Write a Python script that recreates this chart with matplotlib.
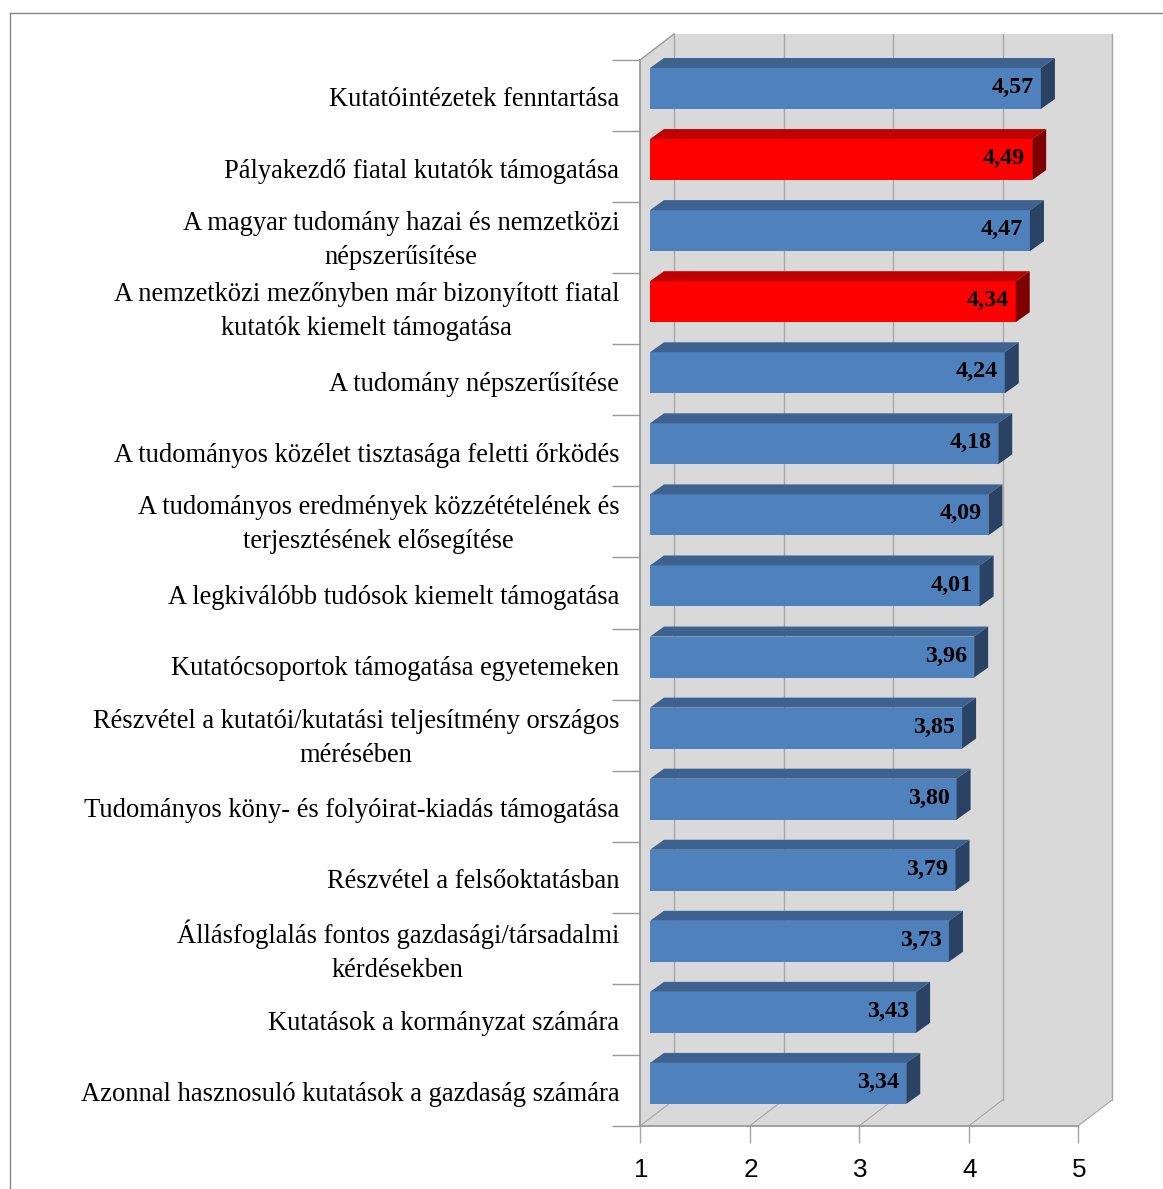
import matplotlib.pyplot as plt
from matplotlib.lines import Line2D
from matplotlib.patches import Polygon
from matplotlib.transforms import Affine2D

plt.rcParams['font.family'] = ['Liberation Serif', 'DejaVu Serif']

labels = ['Kutatóintézetek fenntartása',
          'Pályakezdő fiatal kutatók támogatása',
          'A magyar tudomány hazai és nemzetközi\nnépszerűsítése',
          'A nemzetközi mezőnyben már bizonyított fiatal\nkutatók kiemelt támogatása',
          'A tudomány népszerűsítése',
          'A tudományos közélet tisztasága feletti őrködés',
          'A tudományos eredmények közzétételének és\nterjesztésének elősegítése',
          'A legkiválóbb tudósok kiemelt támogatása',
          'Kutatócsoportok támogatása egyetemeken',
          'Részvétel a kutatói/kutatási teljesítmény országos\nmérésében',
          'Tudományos köny- és folyóirat-kiadás támogatása',
          'Részvétel a felsőoktatásban',
          'Állásfoglalás fontos gazdasági/társadalmi\nkérdésekben',
          'Kutatások a kormányzat számára',
          'Azonnal hasznosuló kutatások a gazdaság számára']
values = [4.57, 4.49, 4.47, 4.34, 4.24, 4.18, 4.09, 4.01, 3.96, 3.85, 3.80, 3.79, 3.73, 3.43, 3.34]
highlight = [1, 3]

W, H = 1163, 1189
fig = plt.figure(figsize=(W / 100, H / 100), dpi=100, facecolor='white')
ax = fig.add_axes([640 / W, (H - 1126) / H, 438 / W, 1066 / H])
ax.set_facecolor('none')
n = len(values)
ax.set_xlim(1, 5)
ax.set_ylim(n, 0)

# pixels -> data units
px = 4 / 438
py = n / 1066
wall_dx, wall_dy = 34 * px, 26 * py
bar_dx, bar_dy = 14 * px, 10 * py
grid_c = '#a6a6a6'

# walls
ax.add_patch(Polygon([(1 + wall_dx, -wall_dy), (5 + wall_dx, -wall_dy), (5 + wall_dx, n - wall_dy),
                      (5, n), (1, n), (1, 0)],
                     fc='#d9d9d9', ec='none', clip_on=False, zorder=0))

# gridlines on back wall and floor
for v in range(1, 6):
    ax.plot([v + wall_dx, v + wall_dx], [-wall_dy, n - wall_dy], color=grid_c, lw=1.0, clip_on=False, zorder=1)
    ax.plot([v, v + wall_dx], [n, n - wall_dy], color=grid_c, lw=0.8, clip_on=False, zorder=1)
ax.plot([1, 1 + wall_dx], [0, -wall_dy], color='#999999', lw=1.0, clip_on=False, zorder=1)

# bars with fake depth
start = 1 + 10 * px
for i, val in enumerate(values):
    top = i + 8 * py
    h = 41 * py
    if i in highlight:
        face, upper, side = '#ff0000', '#bf0000', '#7f0000'
    else:
        face, upper, side = '#4f81bd', '#3d6290', '#2a4365'
    ax.barh(top + h / 2, val - 1, height=h, left=start, color=face, zorder=3)
    end = start + val - 1
    ax.add_patch(Polygon([(start, top), (start + bar_dx, top - bar_dy), (end + bar_dx, top - bar_dy), (end, top)],
                         fc=upper, ec='none', zorder=3, clip_on=False))
    ax.add_patch(Polygon([(end, top), (end + bar_dx, top - bar_dy), (end + bar_dx, top + h - bar_dy), (end, top + h)],
                         fc=side, ec='none', zorder=3, clip_on=False))
    ax.text(end - 7 * px, top + h / 2 - 1 * py, f'{val:.2f}'.replace('.', ','), ha='right', va='center',
            fontsize=17.3, fontweight='bold', color='black', zorder=4)

# axes
for s in ['top', 'right']:
    ax.spines[s].set_visible(False)
for s in ['left', 'bottom']:
    ax.spines[s].set_color('#999999')
    ax.spines[s].set_linewidth(1.3)

ax.set_xticks(range(1, 6))
ax.set_xticklabels([str(v) for v in range(1, 6)], family=['Liberation Sans'], fontsize=18.8)
ax.tick_params(axis='x', length=12.5, width=1.0, color='#a6a6a6', pad=10.7)
for t in ax.get_xticklabels():
    t.set_transform(t.get_transform() + Affine2D().translate(1.5, 0))

ax.set_yticks(range(n + 1))
ax.set_yticklabels([])
ax.tick_params(axis='y', which='major', length=20, width=1.0, color='#999999')
ax.set_yticks([i + 0.52 for i in range(n)], labels, minor=True)
ax.tick_params(axis='y', which='minor', length=0, pad=15, labelsize=19.1)
for t in ax.get_yticklabels(minor=True):
    t.set_multialignment('center')
    t.set_linespacing(1.48)
    if '\n' in t.get_text():
        # two line labels sit a bit higher
        t.set_transform(t.get_transform() + Affine2D().translate(0, 6))

# frame of the slide picture, top and left only
fig.add_artist(Line2D([10 / W, 1], [1 - 12.5 / H, 1 - 12.5 / H], color='#868686', lw=1.0))
fig.add_artist(Line2D([10 / W, 10 / W], [0, 1 - 12.5 / H], color='#868686', lw=1.0))

fig.savefig('out.png', dpi=100)
